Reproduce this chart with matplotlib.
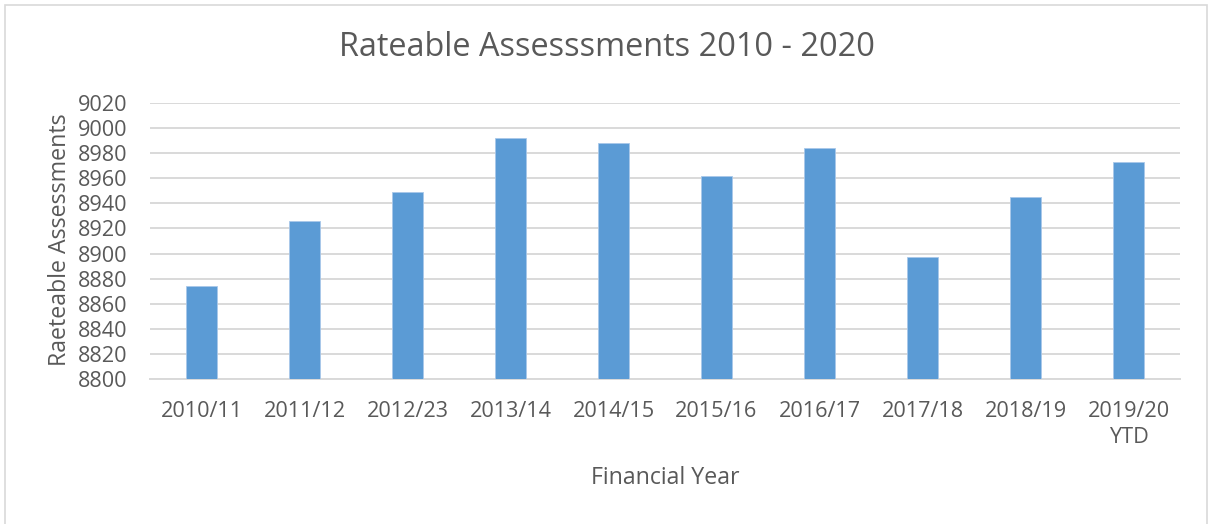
import matplotlib
matplotlib.use("Agg")
import matplotlib.pyplot as plt
import matplotlib.patches as patches
import numpy as np

# Rateable assessments per financial year
years = ["2010/11", "2011/12", "2012/23", "2013/14", "2014/15",
         "2015/16", "2016/17", "2017/18", "2018/19", "2019/20\nYTD"]
assessments = [8874, 8926, 8949, 8992, 8988, 8962, 8984, 8897, 8945, 8973]
yticks = list(range(8800, 9021, 20))

TEXT = "#595959"
GRID = "#D9D9D9"
BAR = "#5B9BD5"

plt.rcParams["font.family"] = ["Open Sans", "DejaVu Sans"]

W, H = 1208, 524
fig = plt.figure(figsize=(W / 100, H / 100), dpi=100)
ax = fig.add_axes([150 / W, 1 - 379 / H, 1030 / W, 276 / H])

# chart frame
fig.patches.append(patches.Rectangle(
    (5 / W, -0.1), 1202 / W, 1 - 5 / H + 0.1, transform=fig.transFigure,
    fill=False, edgecolor="#D9D9D9", linewidth=1.2))

x = np.arange(len(years))
ax.bar(x, [v - 8800 for v in assessments], bottom=8800, width=0.31,
       color=BAR, edgecolor="#A9C8EA", linewidth=0.6, zorder=3)

ax.set_xlim(-0.5, len(years) - 0.5)
ax.set_ylim(8800, 9020)
ax.set_yticks(yticks)
ax.set_xticks(x)
ax.set_xticklabels(years, linespacing=1.3)
ax.tick_params(axis="both", length=0, labelsize=15.6, colors=TEXT)
ax.tick_params(axis="y", pad=16)
ax.tick_params(axis="x", pad=16)
ax.yaxis.grid(True, color=GRID, linewidth=1.4, zorder=0)
for side in ["top", "right", "left"]:
    ax.spines[side].set_visible(False)
ax.spines["bottom"].set_color(GRID)
ax.spines["bottom"].set_linewidth(1.4)

fig.text(607 / W, 1 - 48 / H, "Rateable Assesssments 2010 - 2020",
         ha="center", va="center", fontsize=23.4, color=TEXT)
fig.text(60 / W, 1 - 240 / H, "Raeteable Assessments", ha="center",
         va="center", rotation=90, fontsize=16.7, color=TEXT)
fig.text(665 / W, 1 - 478 / H, "Financial Year", ha="center",
         va="center", fontsize=16.7, color=TEXT)

fig.savefig("out.png", dpi=100)
